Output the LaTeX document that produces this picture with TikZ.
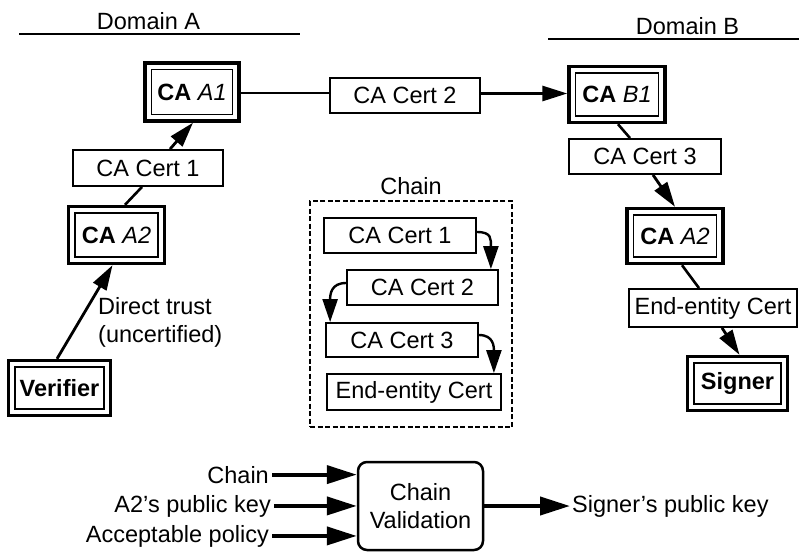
\documentclass[tikz,border=0pt]{standalone}
\usepackage{fontspec}
\setmainfont{Liberation Sans}
\usetikzlibrary{arrows.meta}
\begin{document}
\begin{tikzpicture}[x=1pt,y=-1pt,
  every node/.style={font=\fontsize{23.5}{28}\selectfont},
  certbox/.style={draw, line width=1.8pt, inner sep=0pt, minimum height=35pt},
  cabox/.style={draw, line width=3.4pt, inner sep=0pt,
    path picture={\draw[line width=1.8pt]
      ([shift={(6.5pt,-6.5pt)}]path picture bounding box.north west) rectangle
      ([shift={(-6.5pt,6.5pt)}]path picture bounding box.south east);}},
  link/.style={line width=2.6pt},
  trust/.style={line width=2.8pt, -{Triangle[length=25pt,width=15pt]}},
  chainarrow/.style={line width=2.4pt, -{Triangle[length=23pt,width=15pt]}},
  inarrow/.style={line width=4pt, -{Triangle[length=30pt,width=18pt]}},
  plain/.style={inner sep=0pt}
]
\useasboundingbox (0,0) rectangle (799,554);

% domain headings
\node[plain] (domA) at (148.5,21.5) {Domain A};
\node[plain] (domB) at (687.5,26.5) {Domain B};
\coordinate (domAl) at (19,34);
\coordinate (domAr) at (300,34);
\coordinate (domBl) at (548,39);
\coordinate (domBr) at (799,39);
\draw[line width=2pt] (domAl) -- (domAr);
\draw[line width=2pt] (domBl) -- (domBr);

% certification authorities and end entities
\node[cabox, minimum width=94pt, minimum height=58pt] (caA1) at (192,92) {\textbf{CA} \textit{A1}};
\node[cabox, minimum width=96pt, minimum height=56pt] (caB1) at (617,94.5) {\textbf{CA} \textit{B1}};
\node[cabox, minimum width=96pt, minimum height=57pt] (caA2L) at (116.5,235) {\textbf{CA} \textit{A2}};
\node[cabox, minimum width=96pt, minimum height=55pt] (caA2R) at (675,236) {\textbf{CA} \textit{A2}};
\node[cabox, minimum width=102pt, minimum height=55pt] (ver) at (59.5,388) {\textbf{Verifier}};
\node[cabox, minimum width=100pt, minimum height=54pt] (sig) at (737.5,383.5) {\textbf{Signer}};

% certificates along the path
\node[certbox, minimum width=150pt, minimum height=36pt] (cert1) at (148,168) {CA Cert 1\hspace{14pt}};
\node[certbox, minimum width=150pt] (cert2) at (405,95.5) {CA Cert 2\hspace{18pt}};
\node[certbox, minimum width=152pt] (cert3) at (645,156.5) {CA Cert 3\hspace{10pt}};
\node[certbox, minimum width=168pt, minimum height=38pt] (eeR) at (713,308) {End-entity Cert};

% path connectors
\draw[trust] ([xshift=22pt]cert1.north) -- ([xshift=1pt]caA1.south);
\draw[link] ([xshift=8.5pt]caA2L.north) -- ([xshift=-6pt]cert1.south);
\draw[trust] ([xshift=-2.5pt]ver.north) -- ([xshift=-4pt]caA2L.south);
\draw[link] ([yshift=-1pt]caA1.east) -- ([yshift=-1pt]caA1.east -| cert2.west);
\draw[trust] ([yshift=2pt]cert2.east) -- ([yshift=2pt]cert2.east -| caB1.west);
\draw[link] ([xshift=1pt]caB1.south) -- ([xshift=-15pt]cert3.north);
\draw[trust] ([xshift=8pt]cert3.south) -- (caA2R.north);
\draw[link] ([xshift=7pt]caA2R.south) -- ([xshift=-14pt]eeR.north);
\draw[trust] ([xshift=9pt]eeR.south) -- ([xshift=2pt]sig.north);

\node[plain, anchor=north west, align=left] (direct) at (98,297) {Direct trust\\(uncertified)};

% the chain
\node[plain] (chainlbl) at (411,186) {Chain};
\node[draw, line width=1.8pt, dash pattern=on 5pt off 2.5pt, inner sep=0pt,
      minimum width=202pt, minimum height=226pt] (chainbox) at (411,314) {};
\node[certbox, minimum width=152pt] (c1) at (400,235.5) {CA Cert 1\hspace{16pt}};
\node[certbox, minimum width=151pt] (c2) at (422.5,287.5) {CA Cert 2\hspace{18pt}};
\node[certbox, minimum width=152pt, minimum height=34pt] (c3) at (402,340) {CA Cert 3\hspace{10pt}};
\node[certbox, minimum width=174pt, minimum height=36pt] (c4) at (414,392) {End-entity Cert};

\draw[chainarrow] ([yshift=3.5pt]c1.east) .. controls +(15,0) and +(0,-30) .. ([xshift=-8pt]c2.north east);
\draw[chainarrow] ([yshift=4.5pt]c2.west) .. controls +(-15,0) and +(0,-28) .. ([xshift=5pt]c3.north west);
\draw[chainarrow] ([yshift=5pt]c3.east) .. controls +(15,0) and +(0,-26) .. ([xshift=-8pt]c4.north east);

% chain validation
\node[draw, line width=2.5pt, rounded corners=9pt, inner sep=0pt,
      minimum width=125pt, minimum height=88pt, align=center] (val) at (420.5,506) {Chain\\Validation};
\node[inner sep=3pt, anchor=base east] (inChain) at (272,483) {Chain};
\node[inner sep=3pt, anchor=base east] (inKey) at (274,512) {A2’s public key};
\node[inner sep=3pt, anchor=base east] (inPol) at (272,542) {Acceptable policy};
\node[inner sep=2pt, anchor=west] (outKey) at (570,506) {Signer’s public key};

\draw[inarrow] (inChain.east) -- (inChain.east -| val.west);
\draw[inarrow] (inKey.east) -- (inKey.east -| val.west);
\draw[inarrow] (inPol.east) -- (inPol.east -| val.west);
\draw[inarrow] (val.east) -- (outKey.west);
\end{tikzpicture}
\end{document}
